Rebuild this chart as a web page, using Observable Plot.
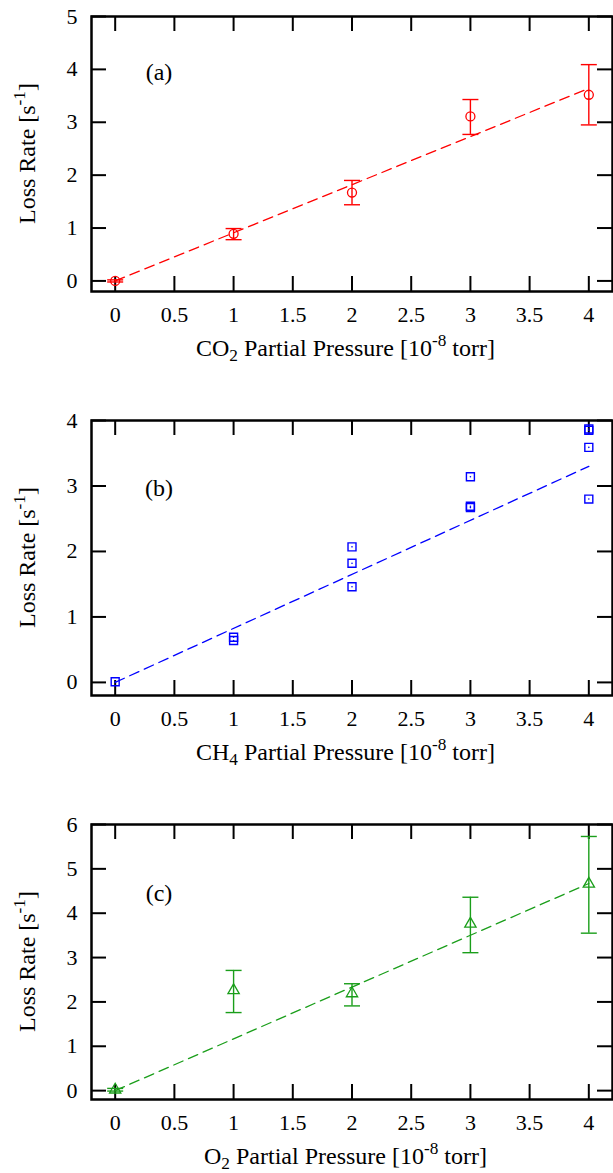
<!DOCTYPE html>
<html><head><meta charset="utf-8">
<script src="https://cdn.jsdelivr.net/npm/d3@7"></script>
<script src="https://cdn.jsdelivr.net/npm/@observablehq/plot@0.6"></script>
<style>
html,body{margin:0;padding:0;background:#fff;}
body{width:613px;height:1173px;overflow:hidden;}
svg{display:block;}
</style></head><body><div id="chart"></div>
<script>
// ---- data ----
const xTicks = [0, 0.5, 1, 1.5, 2, 2.5, 3, 3.5, 4];
const pressure = [0, 1, 2, 3, 4];

const co2Rate = [0.00, 0.89, 1.67, 3.11, 3.52];
const co2Lo   = [-0.02, 0.78, 1.44, 2.77, 2.95];
const co2Hi   = [0.02, 0.99, 1.90, 3.43, 4.09];
const co2FitX = [0, 4];
const co2FitY = [0, 3.64];
const co2YTicks = [0, 1, 2, 3, 4, 5];

const ch4Pressure = [0, 1, 1, 2, 2, 2, 3, 3, 3, 4, 4, 4, 4];
const ch4Rate     = [0.01, 0.69, 0.64, 2.07, 1.82, 1.46, 3.14, 2.69, 2.67, 3.87, 3.85, 3.59, 2.80];
const ch4FitX = [0, 4];
const ch4FitY = [0, 3.30];
const ch4YTicks = [0, 1, 2, 3, 4];

const o2Rate = [0.02, 2.26, 2.19, 3.76, 4.66];
const o2Lo   = [-0.01, 1.76, 1.91, 3.11, 3.55];
const o2Hi   = [0.05, 2.71, 2.41, 4.36, 5.73];
const o2FitX = [0, 4];
const o2FitY = [0, 4.67];
const o2YTicks = [0, 1, 2, 3, 4, 5, 6];

const panelLabels = ["(a)", "(b)", "(c)"];
const panelLabelX = [0.37, 0.37, 0.37];
const panelLabelY = [3.94, 2.97, 4.45];

const gasNames = [["CO", "2"], ["CH", "4"], ["O", "2"]];
const colors = ["#ff0000", "#0000ff", "#1a9e1a"];
const yMax = [5, 4, 6];

// ---- helpers ----
const FONT = "Liberation Serif, Times New Roman, serif";
const FS = 22;   // tick labels
const TFS = 24;  // titles
const capSymbol = {draw(ctx, size) { const r = Math.sqrt(size / Math.PI); ctx.moveTo(-r, 0); ctx.lineTo(r, 0); }};

function panel(i, height, marginBottom, marks, yTicks) {
  const marginTop = 16, marginLeft = 91, marginRight = 1;
  const frameH = height - marginTop - marginBottom;
  const frameW = 613 - marginLeft - marginRight;
  const color = colors[i];
  const plot = Plot.plot({
    width: 613, height, marginTop, marginBottom, marginLeft, marginRight,
    style: {fontFamily: FONT, fontSize: FS + "px", background: "white", overflow: "visible"},
    x: {domain: [-0.2, 4.2]},
    y: {domain: [-0.2, yMax[i]]},
    marks: [
      Plot.axisX({ticks: xTicks, tickSize: 0, tickPadding: 15, label: null, fontSize: FS, tickFormat: d => String(d)}),
      Plot.axisY({ticks: yTicks, tickSize: 0, tickPadding: 14, label: null, fontSize: FS, tickFormat: d => String(d)}),
      Plot.tickX(xTicks, {x: d => d, stroke: "black", strokeWidth: 2, insetTop: frameH - 15}),
      Plot.tickX(xTicks, {x: d => d, stroke: "black", strokeWidth: 2, insetBottom: frameH - 15}),
      Plot.tickY(yTicks, {y: d => d, stroke: "black", strokeWidth: 2, insetRight: frameW - 15}),
      Plot.tickY(yTicks, {y: d => d, stroke: "black", strokeWidth: 2, insetLeft: frameW - 15}),
      Plot.text([panelLabels[i]], {x: () => panelLabelX[i], y: () => panelLabelY[i], text: d => d, fontSize: TFS, fill: "black"}),
      ...marks(color),
      Plot.frame({stroke: "black", strokeWidth: 2.5})
    ]
  });
  const svg = d3.select(plot);
  const xs = plot.scale("x"), ys = plot.scale("y");
  const cx = (xs.apply(-0.2) + xs.apply(4.2)) / 2 - 6;
  const cy = (ys.apply(-0.2) + ys.apply(yMax[i])) / 2;
  const bottom = ys.apply(-0.2);
  // x title
  const xt = svg.append("text").attr("x", cx).attr("y", bottom + 65)
    .attr("text-anchor", "middle").attr("font-family", FONT).attr("font-size", TFS).attr("fill", "black");
  xt.append("tspan").text(gasNames[i][0]);
  xt.append("tspan").attr("font-size", TFS * 0.72).attr("dy", 5).text(gasNames[i][1]);
  xt.append("tspan").attr("dy", -5).text(" Partial Pressure [10");
  xt.append("tspan").attr("font-size", TFS * 0.72).attr("dy", -10).text("-8");
  xt.append("tspan").attr("dy", 10).text(" torr]");
  // y title
  const yt = svg.append("text").attr("transform", `translate(35,${cy}) rotate(-90)`)
    .attr("text-anchor", "middle").attr("font-family", FONT).attr("font-size", TFS).attr("fill", "black");
  yt.append("tspan").text("Loss Rate [s");
  yt.append("tspan").attr("font-size", TFS * 0.72).attr("dy", -10).text("-1");
  yt.append("tspan").attr("dy", 10).text("]");
  return plot;
}

const root = document.getElementById("chart");

const co2 = pressure.map((x, j) => ({x, y: co2Rate[j], lo: co2Lo[j], hi: co2Hi[j]}));
root.appendChild(panel(0, 404, 113, c => [
  Plot.line(co2FitX.map((x, j) => ({x, y: co2FitY[j]})), {x: "x", y: "y", stroke: c, strokeWidth: 1.3, strokeDasharray: "10,6"}),
  Plot.ruleX(co2, {x: "x", y1: "lo", y2: "hi", stroke: c, strokeWidth: 1.4}),
  Plot.dot(co2, {x: "x", y: "lo", symbol: capSymbol, r: 8, stroke: c, strokeWidth: 1.4}),
  Plot.dot(co2, {x: "x", y: "hi", symbol: capSymbol, r: 8, stroke: c, strokeWidth: 1.4}),
  Plot.dot(co2, {x: "x", y: "y", r: 4.5, stroke: c, strokeWidth: 1.3, fill: "none"})
], co2YTicks));

const ch4 = ch4Pressure.map((x, j) => ({x, y: ch4Rate[j]}));
root.appendChild(panel(1, 404, 113, c => [
  Plot.line(ch4FitX.map((x, j) => ({x, y: ch4FitY[j]})), {x: "x", y: "y", stroke: c, strokeWidth: 1.3, strokeDasharray: "10,6"}),
  Plot.dot(ch4, {x: "x", y: "y", symbol: "square", r: 4.5, stroke: c, strokeWidth: 1.4, fill: "none"}),
  Plot.dot(ch4, {x: "x", y: "y", r: 0.8, fill: c})
], ch4YTicks));

const o2 = pressure.map((x, j) => ({x, y: o2Rate[j], lo: o2Lo[j], hi: o2Hi[j]}));
root.appendChild(panel(2, 365, 74, c => [
  Plot.line(o2FitX.map((x, j) => ({x, y: o2FitY[j]})), {x: "x", y: "y", stroke: c, strokeWidth: 1.3, strokeDasharray: "10,6"}),
  Plot.ruleX(o2, {x: "x", y1: "lo", y2: "hi", stroke: c, strokeWidth: 1.4}),
  Plot.dot(o2, {x: "x", y: "lo", symbol: capSymbol, r: 8, stroke: c, strokeWidth: 1.4}),
  Plot.dot(o2, {x: "x", y: "hi", symbol: capSymbol, r: 8, stroke: c, strokeWidth: 1.4}),
  Plot.dot(o2, {x: "x", y: "y", symbol: "triangle", r: 4.2, stroke: c, strokeWidth: 1.3, fill: "none"})
], o2YTicks));
</script>
</body></html>
